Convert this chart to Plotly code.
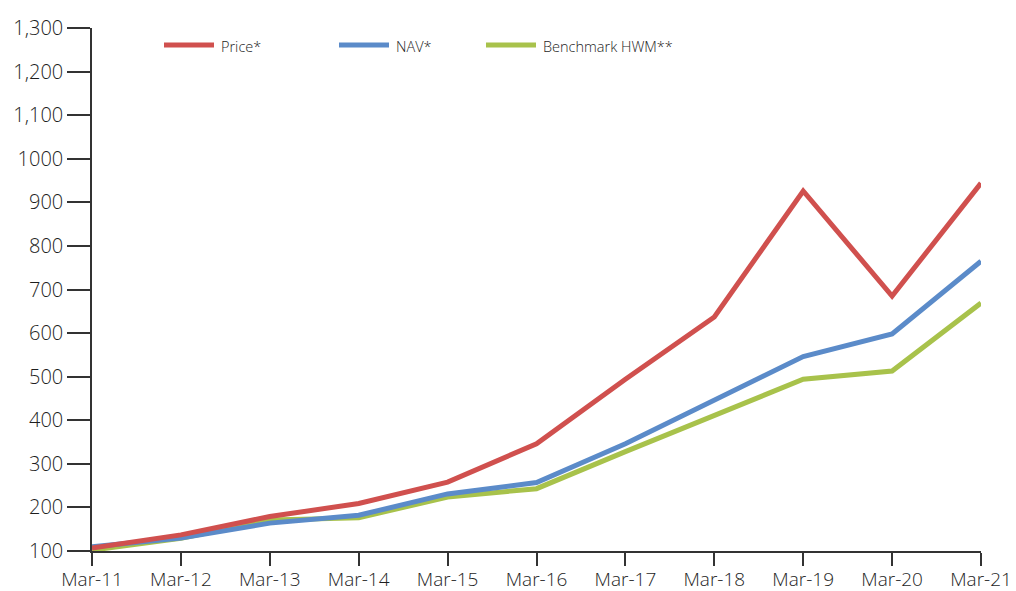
import plotly.graph_objects as go

categories = ["Mar-11", "Mar-12", "Mar-13", "Mar-14", "Mar-15", "Mar-16",
              "Mar-17", "Mar-18", "Mar-19", "Mar-20", "Mar-21"]
price = [107, 137, 179, 209, 258, 346, 494, 637, 926, 685, 944]
nav = [110, 130, 164, 182, 231, 257, 346, 445, 546, 598, 765]
benchmark = [102, 129, 171, 176, 224, 243, 328, 412, 494, 513, 669]

y_tickvals = [100, 200, 300, 400, 500, 600, 700, 800, 900, 1000, 1100, 1200, 1300]
y_ticktext = ["100", "200", "300", "400", "500", "600", "700", "800", "900",
              "1000", "1,100", "1,200", "1,300"]

series = [("Price*", price, "#D0504E"),
          ("NAV*", nav, "#5B8BC9"),
          ("Benchmark HWM**", benchmark, "#A8C24B")]

x = list(range(len(categories)))
fig = go.Figure()
for name, vals, col in reversed(series):
    fig.add_trace(go.Scatter(x=x, y=vals, mode="lines", name=name,
                             line=dict(color=col, width=5), showlegend=False))

# manual legend (swatch + label) in paper coordinates
W, H = 1016, 591
L, R, T, B = 92, 35, 28, 40
pw, ph = W - L - R, H - T - B
def px(xp):
    return (xp - L) / pw
def py(yp):
    return 1 - (yp - T) / ph
legend_pos = [164, 339, 486]
for (name, vals, col), lx in zip(series, legend_pos):
    fig.add_shape(type="line", xref="paper", yref="paper",
                  x0=px(lx), x1=px(lx + 50), y0=py(45), y1=py(45),
                  line=dict(color=col, width=5))
    fig.add_annotation(xref="paper", yref="paper", x=px(lx + 55), y=py(46),
                       text=name, showarrow=False, xanchor="left", yanchor="middle",
                       font=dict(size=14.5, color="#1e1e1e", family="Open Sans", weight=350))

fig.update_layout(
    width=W, height=H,
    margin=dict(l=L, r=R, t=T, b=B, autoexpand=False),
    paper_bgcolor="white", plot_bgcolor="white",
    font=dict(family="Open Sans", color="#1e1e1e"),
    xaxis=dict(range=[0, 10], tickvals=x, ticktext=categories, automargin=False,
               showgrid=False, zeroline=False, showline=True,
               linecolor="#333333", linewidth=1.5,
               ticks="outside", ticklen=13, tickcolor="#333333", tickwidth=1.5,
               ticklabelstandoff=-3,
               tickfont=dict(size=19, color="#1e1e1e", family="Open Sans", weight=350)),
    yaxis=dict(range=[100, 1300], tickvals=y_tickvals, ticktext=y_ticktext, automargin=False,
               showgrid=False, zeroline=False, showline=True,
               linecolor="#333333", linewidth=1.5,
               ticks="outside", ticklen=23, tickcolor="#333333", tickwidth=1.5,
               tickfont=dict(size=20, color="#1e1e1e", family="Open Sans", weight=350)),
)

fig.write_html("out.html")
